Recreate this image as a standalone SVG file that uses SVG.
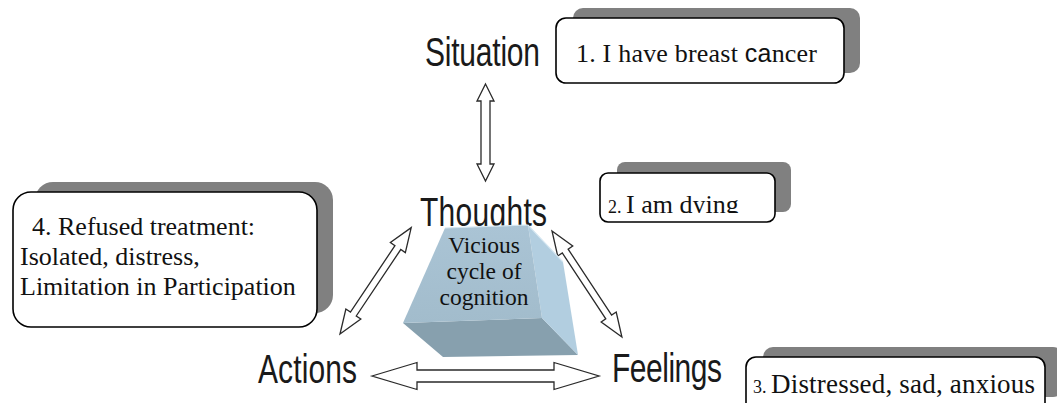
<svg xmlns="http://www.w3.org/2000/svg" width="1057" height="403" viewBox="0 0 1057 403">
  <style>
    .label { font-family: "Liberation Sans", Arial, sans-serif; font-size: 30px; fill: #1a1a1a; }
    .note { font-family: "Liberation Serif", "Times New Roman", serif; font-size: 26px; fill: #111; }
    .small { font-size: 18px; }
    .shadow { fill: #808080; }
    .card { fill: #ffffff; stroke: #000; stroke-width: 1.6; }
    .arrow { fill: #ffffff; stroke: #2a2a2a; stroke-width: 1.3; stroke-linejoin: miter; }
    .core { font-family: "Liberation Serif", "Times New Roman", serif; font-size: 23.5px; fill: #111; text-anchor: middle; }
  </style>
  <defs>
    <clipPath id="clip-dying"><rect x="600" y="170" width="176" height="43"/></clipPath>
    <linearGradient id="front" x1="0" y1="0" x2="0" y2="1">
      <stop offset="0" stop-color="#aac4d5"/>
      <stop offset="1" stop-color="#a2bccc"/>
    </linearGradient>
  </defs>
  <rect width="1057" height="403" fill="#ffffff"/>

  <!-- stage labels -->
  <g id="situation"><text class="label" transform="translate(425,66) scale(1,1.35)" textLength="115">Situation</text></g>
  <g id="thoughts"><text class="label" transform="translate(420,226) scale(1,1.35)" textLength="127">Thoughts</text></g>
  <g id="actions"><text class="label" transform="translate(258,383) scale(1,1.35)" textLength="99">Actions</text></g>
  <g id="feelings"><text class="label" transform="translate(612,382) scale(1,1.35)" textLength="110">Feelings</text></g>

  <!-- two-headed hollow arrows -->
  <g id="connectors">
    <path class="arrow" transform="translate(485.5,84) rotate(90)" d="M0,0 L17,-8.5 L17,-4.5 L80,-4.5 L80,-8.5 L97,0 L80,8.5 L80,4.5 L17,4.5 L17,8.5 Z"/>
    <path class="arrow" transform="translate(340,334) rotate(-56.2)" d="M0,0 L24,-9 L24,-3.5 L104,-3.5 L104,-9 L128,0 L104,9 L104,3.5 L24,3.5 L24,9 Z"/>
    <path class="arrow" transform="translate(552,231) rotate(56.6)" d="M0,0 L24,-9 L24,-3.5 L103,-3.5 L103,-9 L127,0 L103,9 L103,3.5 L24,3.5 L24,9 Z"/>
    <path class="arrow" transform="translate(372,376)" d="M0,0 L45,-13.5 L45,-6 L182,-6 L182,-13.5 L227,0 L182,13.5 L182,6 L45,6 L45,13.5 Z"/>
  </g>

  <!-- central bevelled block -->
  <g id="cycle">
    <polygon points="403,323 542,318 578,355 443,357" fill="#87a0ae"/>
    <polygon points="528,225 563,262 578,355 542,318" fill="#b2cee0"/>
    <polygon points="445,228 528,225 542,318 403,323" fill="url(#front)"/>
    <polyline points="445,228 528,225 563,262" fill="none" stroke="#d4e6f1" stroke-width="1.2"/>
    <text class="core" x="484" y="253">Vicious</text>
    <text class="core" x="484" y="279">cycle of</text>
    <text class="core" x="484" y="305">cognition</text>
  </g>

  <!-- note 1 -->
  <g id="note1">
    <rect class="shadow" x="573" y="8" width="287" height="65" rx="10"/>
    <rect class="card" x="556" y="18" width="288" height="65" rx="10"/>
    <text class="note" x="576" y="62" font-size="27" textLength="241">1. I have breast <tspan font-family="Liberation Sans, Arial, sans-serif" font-size="25">ca</tspan>ncer</text>
  </g>

  <!-- note 2 -->
  <g id="note2">
    <rect class="shadow" x="617" y="162" width="174" height="50" rx="8"/>
    <rect class="card" x="600" y="173" width="175" height="49" rx="8"/>
    <text class="note" x="608" y="213" font-size="27" clip-path="url(#clip-dying)"><tspan class="small">2. </tspan>I am dying</text>
  </g>

  <!-- note 3 -->
  <g id="note3">
    <rect class="shadow" x="763" y="347" width="300" height="50" rx="10"/>
    <rect class="card" x="746" y="357" width="299" height="70" rx="10"/>
    <text class="note" x="753" y="393"><tspan class="small">3. </tspan><tspan font-size="27" textLength="264">Distressed, sad, anxious</tspan></text>
  </g>

  <!-- note 4 -->
  <g id="note4">
    <rect class="shadow" x="35" y="182" width="298" height="131" rx="18"/>
    <rect class="card" x="13" y="192" width="304" height="135" rx="18"/>
    <text class="note" x="32" y="235">4. Refused treatment:</text>
    <text class="note" x="20" y="265">Isolated, distress,</text>
    <text class="note" x="20" y="295">Limitation in Participation</text>
  </g>
</svg>
